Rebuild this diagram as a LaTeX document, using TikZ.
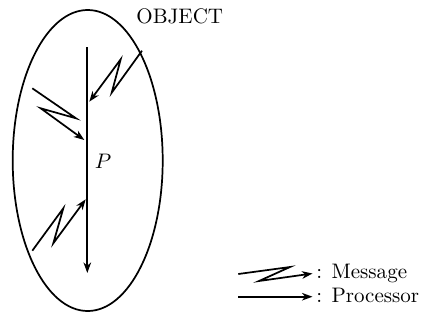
\documentclass[tikz,border=0pt]{standalone}
\usetikzlibrary{arrows.meta}
\begin{document}
\begin{tikzpicture}[x=0.476pt,y=-0.476pt,
  ln/.style={line width=0.82pt},
  tip/.style={-{Stealth[length=5pt,width=3.6pt,inset=1.5pt]}},
  lbl/.style={inner sep=0pt,anchor=base west}]
\useasboundingbox (0,0) rectangle (423,320);
% object ellipse
\draw[ln] (87.7,160.5) ellipse [x radius=75, y radius=150.5];
\node[lbl] (obj) at (136,23) {OBJECT};
% processor
\coordinate (ps) at (87.3,47);
\coordinate (pe) at (87.3,273);
\draw[ln,tip] (ps) -- (pe);
\node (plab) at (103,161) {$P$};
% message 1
\coordinate (a1) at (142,50.7);
\coordinate (a2) at (111.7,92.7);
\coordinate (a3) at (120.7,59.3);
\coordinate (a4) at (89.3,101.7);
\draw[ln,tip] (a1) -- (a2) -- (a3) -- (a4);
% message 2
\coordinate (b1) at (32.3,88.3);
\coordinate (b2) at (76,118.3);
\coordinate (b3) at (40.7,108.3);
\coordinate (b4) at (84.3,140);
\draw[ln,tip] (b1) -- (b2) -- (b3) -- (b4);
% message 3
\coordinate (c1) at (32.3,250.7);
\coordinate (c2) at (63.3,208.3);
\coordinate (c3) at (53.3,243.3);
\coordinate (c4) at (85.7,199.3);
\draw[ln,tip] (c1) -- (c2) -- (c3) -- (c4);
% legend
\coordinate (m1) at (238.3,274);
\coordinate (m2) at (290,267);
\coordinate (m3) at (259,281);
\coordinate (m4) at (312.5,273.5);
\draw[ln,tip] (m1) -- (m2) -- (m3) -- (m4);
\node[lbl] (mlab) at (316,278) {: Message};
\coordinate (q1) at (238.3,296.7);
\coordinate (q2) at (312.5,296.7);
\draw[ln,tip] (q1) -- (q2);
\node[lbl] (qlab) at (316,302.5) {: Processor};
\end{tikzpicture}
\end{document}
